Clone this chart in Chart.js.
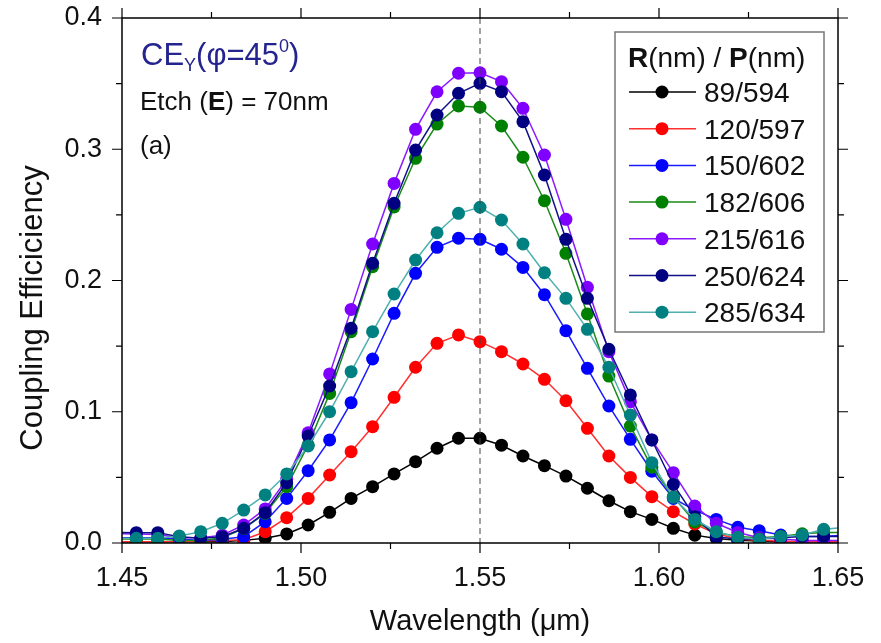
<!DOCTYPE html>
<html>
<head>
<meta charset="utf-8">
<script src="https://cdn.jsdelivr.net/npm/chart.js@4.4.0/dist/chart.umd.min.js"></script>
<style>
  html, body { margin: 0; padding: 0; background: #fff; }
  #wrap { width: 881px; height: 643px; }
</style>
</head>
<body>
<div id="wrap"><canvas id="couplingChart" width="881" height="643"></canvas></div>
<script>
// wavelength (um), first and last are just outside the axis so the lines run to the frame
const wavelengths = [1.448, 1.454, 1.460, 1.466, 1.472, 1.478, 1.484, 1.490, 1.496, 1.502, 1.508, 1.514,
    1.520, 1.526, 1.532, 1.538, 1.544, 1.550, 1.556, 1.562, 1.568, 1.574, 1.580, 1.586, 1.592, 1.598,
    1.604, 1.610, 1.616, 1.622, 1.628, 1.634, 1.640, 1.646, 1.652];

const seriesLabels = ["89/594", "120/597", "150/602", "182/606", "215/616", "250/624", "285/634"];

const ce89 = [0.001, 0.001, 0.001, 0.001, 0.001, 0.001, 0.002, 0.0036, 0.0069, 0.0137, 0.0234, 0.034,
    0.0429, 0.0526, 0.062, 0.0722, 0.0798, 0.0798, 0.0745, 0.0663, 0.0589, 0.051, 0.0417, 0.0322,
    0.0239, 0.018, 0.0112, 0.006, 0.0035, 0.002, 0.0015, 0.001, 0.001, 0.001, 0.001];
const ce120 = [0.001, 0.001, 0.001, 0.001, 0.0015, 0.002, 0.0025, 0.0086, 0.0193, 0.034, 0.0518, 0.0696,
    0.0886, 0.111, 0.1339, 0.1521, 0.1585, 0.1534, 0.1458, 0.1364, 0.1247, 0.1084, 0.0874, 0.0663,
    0.05, 0.0353, 0.0239, 0.0145, 0.007, 0.003, 0.002, 0.0015, 0.001, 0.001, 0.001];
const ce150 = [0.004, 0.004, 0.004, 0.003, 0.002, 0.0028, 0.0048, 0.0162, 0.034, 0.0551, 0.0785, 0.1069,
    0.1402, 0.175, 0.2055, 0.2253, 0.2322, 0.2314, 0.2238, 0.21, 0.1892, 0.1618, 0.1331, 0.1044,
    0.079, 0.0547, 0.034, 0.025, 0.018, 0.012, 0.0094, 0.0061, 0.005, 0.005, 0.006];
const ce182 = [0.003, 0.003, 0.003, 0.002, 0.002, 0.004, 0.011, 0.0226, 0.0429, 0.0747, 0.114, 0.161,
    0.2105, 0.256, 0.2931, 0.3192, 0.333, 0.332, 0.3177, 0.2939, 0.2608, 0.2207, 0.1745, 0.1272,
    0.0891, 0.0577, 0.0353, 0.016, 0.008, 0.005, 0.004, 0.005, 0.007, 0.008, 0.008];
const ce215 = [0.007, 0.0069, 0.0065, 0.004, 0.004, 0.006, 0.0137, 0.026, 0.0485, 0.084, 0.1288, 0.178,
    0.2278, 0.274, 0.3152, 0.3438, 0.3579, 0.3583, 0.3515, 0.3312, 0.2956, 0.2466, 0.1948, 0.1458,
    0.1077, 0.0785, 0.0536, 0.0282, 0.015, 0.008, 0.004, 0.003, 0.002, 0.002, 0.002];
const ce250 = [0.008, 0.0079, 0.0079, 0.0048, 0.0036, 0.0048, 0.0112, 0.0231, 0.046, 0.0815, 0.1196, 0.1636,
    0.2131, 0.2588, 0.2994, 0.3261, 0.3426, 0.3502, 0.3439, 0.321, 0.2804, 0.2314, 0.1864, 0.1476,
    0.1128, 0.0785, 0.0446, 0.02, 0.0045, 0.003, 0.003, 0.004, 0.005, 0.005, 0.005];
const ce285 = [0.0035, 0.0036, 0.0036, 0.0053, 0.0086, 0.015, 0.0251, 0.0366, 0.0526, 0.0739, 0.1, 0.1305,
    0.161, 0.1897, 0.2156, 0.2364, 0.2512, 0.2558, 0.2461, 0.2278, 0.2059, 0.1864, 0.1628, 0.1339,
    0.0975, 0.0612, 0.0348, 0.018, 0.0086, 0.0043, 0.0028, 0.0048, 0.0061, 0.0104, 0.012];

const xTickValues = [1.45, 1.50, 1.55, 1.60, 1.65];
const yTickValues = [0.0, 0.1, 0.2, 0.3, 0.4];
const markedWavelength = 1.55;

const allSeries = [ce89, ce120, ce150, ce182, ce215, ce250, ce285];
const dotColors = ["#000000", "#ff0000", "#0000ff", "#008000", "#8000ff", "#000080", "#008080"];
const lineColors = ["#000000", "#ff3030", "#1a1aff", "#1a8a1a", "#8a1aff", "#101088", "#50b0b0"];

const FONT = "'Liberation Sans', Arial, sans-serif";

const datasets = allSeries.map((values, i) => ({
    label: seriesLabels[i],
    data: wavelengths.map((w, j) => ({ x: w, y: values[j] })),
    borderColor: lineColors[i],
    backgroundColor: dotColors[i],
    pointBackgroundColor: dotColors[i],
    pointBorderWidth: 0,
    pointRadius: 6.5,
    borderWidth: 1.5,
    tension: 0,
    order: allSeries.length - 1 - i
}));

// draws text made of pieces, each piece may be bold / shifted
function drawPieces(ctx, x, y, pieces) {
    let cx = x;
    pieces.forEach(p => {
        ctx.font = (p.bold ? "bold " : "") + p.size + "px " + FONT;
        ctx.fillText(p.text, cx, y + (p.dy || 0));
        cx += ctx.measureText(p.text).width;
    });
}

const frameAndNotes = {
    id: "frameAndNotes",
    afterDatasetsDraw(chart) {
        const ctx = chart.ctx;
        const area = chart.chartArea;
        const xs = chart.scales.x;
        const ys = chart.scales.y;

        // dashed marker at 1.55
        const mx = xs.getPixelForValue(markedWavelength);
        ctx.save();
        ctx.strokeStyle = "#444";
        ctx.lineWidth = 1;
        ctx.setLineDash([6, 4]);
        ctx.beginPath();
        ctx.moveTo(mx, area.top);
        ctx.lineTo(mx, area.bottom);
        ctx.stroke();
        ctx.restore();

        // frame + ticks
        ctx.save();
        ctx.strokeStyle = "#000";
        ctx.lineWidth = 1.5;
        ctx.strokeRect(area.left, area.top, area.right - area.left, area.bottom - area.top);
        ctx.lineWidth = 1.2;
        ctx.beginPath();
        for (let k = 0; k <= 8; k++) {
            const len = k % 2 === 0 ? 10 : 6;
            const px = xs.getPixelForValue(xTickValues[0] + k * 0.025);
            ctx.moveTo(px, area.bottom);
            ctx.lineTo(px, area.bottom + len);
            ctx.moveTo(px, area.top);
            ctx.lineTo(px, area.top - len);
            const py = ys.getPixelForValue(yTickValues[0] + k * 0.05);
            ctx.moveTo(area.left, py);
            ctx.lineTo(area.left - len, py);
            ctx.moveTo(area.right, py);
            ctx.lineTo(area.right + len, py);
        }
        ctx.stroke();
        ctx.restore();
    },
    afterDraw(chart) {
        const ctx = chart.ctx;
        const area = chart.chartArea;
        ctx.save();

        // y axis title
        ctx.save();
        ctx.translate(33, 308);
        ctx.rotate(-Math.PI / 2);
        ctx.textAlign = "center";
        ctx.textBaseline = "middle";
        ctx.fillStyle = "#111";
        ctx.font = "31px " + FONT;
        ctx.fillText("Coupling Efficiciency", 0, 0);
        ctx.restore();

        ctx.textBaseline = "alphabetic";

        // notes, top left
        ctx.fillStyle = "#24248f";
        drawPieces(ctx, area.left + 19, 65, [
            { text: "CE", size: 31 },
            { text: "Y", size: 18, dy: 6 },
            { text: "(\u03c6=45", size: 31 },
            { text: "0", size: 18, dy: -13 },
            { text: ")", size: 31 }
        ]);
        ctx.fillStyle = "#111";
        drawPieces(ctx, area.left + 18, 110, [
            { text: "Etch (", size: 26 },
            { text: "E", size: 26, bold: true },
            { text: ") = 70nm", size: 26 }
        ]);
        drawPieces(ctx, area.left + 18, 154, [{ text: "(a)", size: 26 }]);

        // legend box
        const bx = 615, by = 32, bw = 209, bh = 300;
        ctx.fillStyle = "#fff";
        ctx.fillRect(bx, by, bw, bh);
        ctx.strokeStyle = "#777";
        ctx.lineWidth = 1.5;
        ctx.strokeRect(bx, by, bw, bh);

        ctx.fillStyle = "#111";
        drawPieces(ctx, bx + 13, by + 35, [
            { text: "R", size: 28, bold: true },
            { text: "(nm) / ", size: 28 },
            { text: "P", size: 28, bold: true },
            { text: "(nm)", size: 28 }
        ]);

        seriesLabels.forEach((label, i) => {
            const cy = by + 60 + i * 36.7;
            ctx.strokeStyle = lineColors[i];
            ctx.lineWidth = 1.5;
            ctx.beginPath();
            ctx.moveTo(bx + 14, cy);
            ctx.lineTo(bx + 81, cy);
            ctx.stroke();
            ctx.fillStyle = dotColors[i];
            ctx.beginPath();
            ctx.arc(bx + 47, cy, 6.5, 0, Math.PI * 2);
            ctx.fill();
            ctx.fillStyle = "#111";
            ctx.font = "28px " + FONT;
            ctx.fillText(label, bx + 89, cy + 10);
        });
        ctx.restore();
    }
};

const ctx = document.getElementById("couplingChart").getContext("2d");
const chart = new Chart(ctx, {
    type: "line",
    data: { datasets: datasets },
    options: {
        responsive: false,
        animation: false,
        devicePixelRatio: 1,
        layout: { padding: { top: 18, right: 43, left: 0, bottom: 0 } },
        plugins: {
            legend: { display: false },
            tooltip: { enabled: false }
        },
        scales: {
            x: {
                type: "linear",
                min: 1.45,
                max: 1.65,
                afterFit: scale => { scale.height = 100; },
                afterBuildTicks: scale => { scale.ticks = xTickValues.map(v => ({ value: v })); },
                ticks: {
                    callback: v => v.toFixed(2),
                    font: { size: 27, family: FONT },
                    color: "#111",
                    padding: 9,
                    maxRotation: 0
                },
                grid: { drawOnChartArea: false, tickLength: 10, tickColor: "rgba(0,0,0,0)" },
                border: { display: false },
                title: {
                    display: true,
                    text: "Wavelength (\u03bcm)",
                    font: { size: 29, family: FONT },
                    color: "#111",
                    padding: { top: 0, bottom: 4 }
                }
            },
            y: {
                min: 0,
                max: 0.4,
                afterFit: scale => {
                    scale.width = 122;
                    scale.paddingTop = 0;
                    scale.paddingBottom = 0;
                },
                afterBuildTicks: scale => { scale.ticks = yTickValues.map(v => ({ value: v })); },
                ticks: {
                    callback: v => v.toFixed(1),
                    font: { size: 27, family: FONT },
                    color: "#111",
                    padding: 10
                },
                grid: { drawOnChartArea: false, tickLength: 10, tickColor: "rgba(0,0,0,0)" },
                border: { display: false },
                title: { display: false }
            }
        }
    },
    plugins: [frameAndNotes]
});
</script>
</body>
</html>
